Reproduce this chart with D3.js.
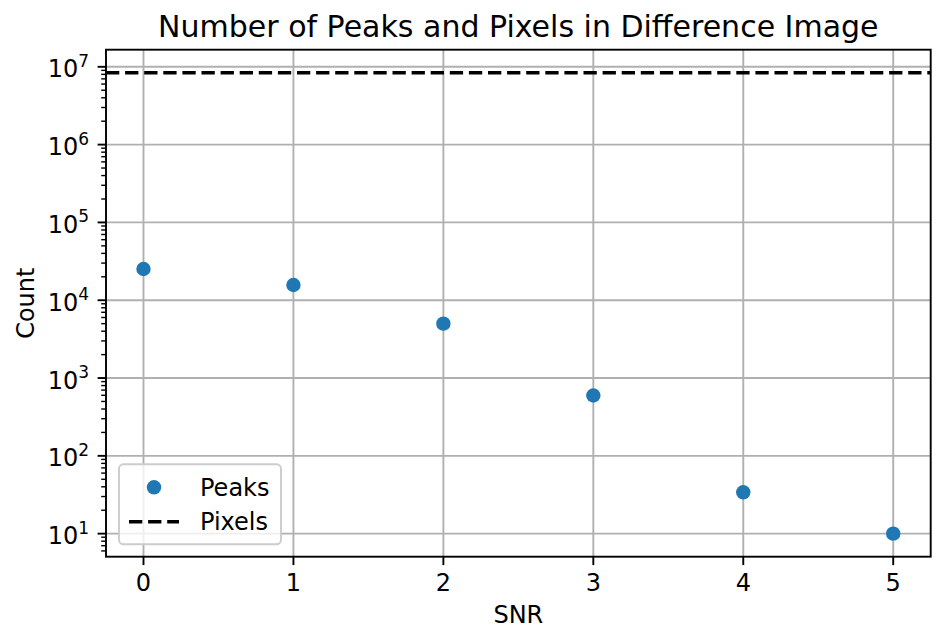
<!DOCTYPE html>
<html>
<head>
<meta charset="utf-8">
<script src="https://cdn.jsdelivr.net/npm/d3@7"></script>
<style>
  html, body { margin: 0; padding: 0; background: #fff; }
  svg { display: block; font-family: "DejaVu Sans", sans-serif; }
</style>
</head>
<body>
<svg id="chart" width="946" height="643"></svg>
<script>
/* ── data ── */
const snr       = [0, 1, 2, 3, 4, 5];
const peaks     = [25200, 15700, 5000, 596, 34, 10];
const pixels    = 8388608;                 // dashed horizontal line
const xTicks    = [0, 1, 2, 3, 4, 5];
const yExps     = [1, 2, 3, 4, 5, 6, 7];   // decades labelled 10^n
const titleText = "Number of Peaks and Pixels in Difference Image";

/* ── layout ── */
const svg = d3.select("#chart");
const plot = { left: 106, top: 49.7, right: 930.7, bottom: 556.7 };

const x = d3.scaleLinear()
  .domain([d3.min(snr) - 0.05 * (d3.max(snr) - d3.min(snr)),
           d3.max(snr) + 0.05 * (d3.max(snr) - d3.min(snr))])
  .range([plot.left, plot.right]);

// matplotlib-style 5% log-space margins
const lo = Math.log10(d3.min(peaks)), hi = Math.log10(Math.max(d3.max(peaks), pixels));
const pad = 0.05 * (hi - lo);
const y = d3.scaleLog()
  .domain([Math.pow(10, lo - pad), Math.pow(10, hi + pad)])
  .range([plot.bottom, plot.top]);

const g = svg.append("g");

/* grid */
g.selectAll(".vgrid").data(xTicks).join("line")
  .attr("x1", d => x(d)).attr("x2", d => x(d))
  .attr("y1", plot.top).attr("y2", plot.bottom)
  .attr("stroke", "#b0b0b0").attr("stroke-width", 1.9);
g.selectAll(".hgrid").data(yExps).join("line")
  .attr("x1", plot.left).attr("x2", plot.right)
  .attr("y1", d => y(Math.pow(10, d))).attr("y2", d => y(Math.pow(10, d)))
  .attr("stroke", "#b0b0b0").attr("stroke-width", 1.9);

/* pixels line */
g.append("line")
  .attr("x1", plot.left).attr("x2", plot.right)
  .attr("y1", y(pixels)).attr("y2", y(pixels))
  .attr("stroke", "#000").attr("stroke-width", 3.6)
  .attr("stroke-dasharray", "13.3,5.8");

/* peaks */
g.selectAll(".pt").data(snr).join("circle")
  .attr("cx", d => x(d))
  .attr("cy", (d, i) => y(peaks[i]))
  .attr("r", 7.2)
  .attr("fill", "#1f77b4");

/* spines */
g.append("rect")
  .attr("x", plot.left).attr("y", plot.top)
  .attr("width", plot.right - plot.left).attr("height", plot.bottom - plot.top)
  .attr("fill", "none").attr("stroke", "#000").attr("stroke-width", 1.9);

/* x axis ticks + labels */
const xa = svg.append("g");
xa.selectAll("line").data(xTicks).join("line")
  .attr("x1", d => x(d)).attr("x2", d => x(d))
  .attr("y1", plot.bottom).attr("y2", plot.bottom + 8.4)
  .attr("stroke", "#000").attr("stroke-width", 1.9);
xa.selectAll("text").data(xTicks).join("text")
  .attr("x", d => x(d)).attr("y", 590.7)
  .attr("text-anchor", "middle").attr("font-size", 24)
  .text(d => d);

/* y axis minor ticks */
const [d0, d1] = y.domain();
const minors = [];
for (let e = Math.floor(Math.log10(d0)); e <= Math.ceil(Math.log10(d1)); e++) {
  for (let m = 2; m <= 9; m++) {
    const v = m * Math.pow(10, e);
    if (v >= d0 && v <= d1) minors.push(v);
  }
}
const ya = svg.append("g");
ya.selectAll(".minor").data(minors).join("line")
  .attr("x1", plot.left - 4.8).attr("x2", plot.left)
  .attr("y1", d => y(d)).attr("y2", d => y(d))
  .attr("stroke", "#000").attr("stroke-width", 1.4);
ya.selectAll(".major").data(yExps).join("line")
  .attr("x1", plot.left - 8.4).attr("x2", plot.left)
  .attr("y1", d => y(Math.pow(10, d))).attr("y2", d => y(Math.pow(10, d)))
  .attr("stroke", "#000").attr("stroke-width", 1.9);

const yl = ya.selectAll(".ylab").data(yExps).join("text")
  .attr("x", plot.left - 16.8)
  .attr("y", d => y(Math.pow(10, d)) + 10.6)
  .attr("text-anchor", "end").attr("font-size", 24);
yl.append("tspan").text("10");
yl.append("tspan").attr("dy", -10.6).attr("font-size", 17).text(d => d);

/* title + axis labels */
svg.append("text")
  .attr("x", (plot.left + plot.right) / 2).attr("y", 37.3)
  .attr("text-anchor", "middle").attr("font-size", 30)
  .text(titleText);
svg.append("text")
  .attr("x", (plot.left + plot.right) / 2).attr("y", 623)
  .attr("text-anchor", "middle").attr("font-size", 24)
  .text("SNR");
svg.append("text")
  .attr("transform", `translate(34,${(plot.top + plot.bottom) / 2}) rotate(-90)`)
  .attr("text-anchor", "middle").attr("font-size", 24)
  .text("Count");

/* legend */
const lg = svg.append("g");
lg.append("rect")
  .attr("x", 119).attr("y", 464.3).attr("width", 162).attr("height", 80)
  .attr("rx", 4.5)
  .attr("fill", "#fff").attr("fill-opacity", 0.8)
  .attr("stroke", "#cccccc").attr("stroke-width", 1.9);
lg.append("circle").attr("cx", 154).attr("cy", 487.3).attr("r", 7.2).attr("fill", "#1f77b4");
lg.append("line").attr("x1", 129).attr("x2", 179).attr("y1", 521.7).attr("y2", 521.7)
  .attr("stroke", "#000").attr("stroke-width", 3.6).attr("stroke-dasharray", "13.3,5.8");
lg.append("text").attr("x", 200).attr("y", 495.8).attr("font-size", 24).text("Peaks");
lg.append("text").attr("x", 200).attr("y", 530.2).attr("font-size", 24).text("Pixels");
</script>
</body>
</html>
